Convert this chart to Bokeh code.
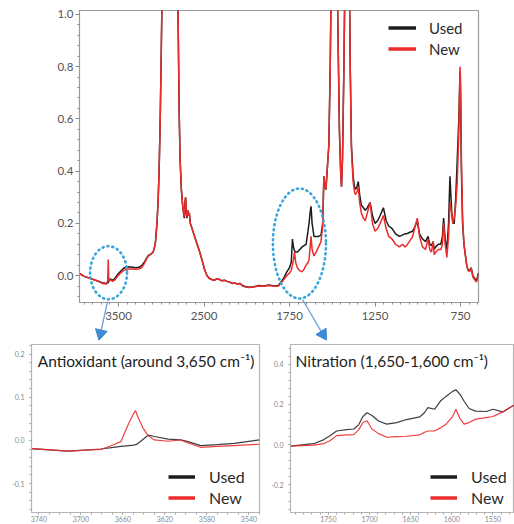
import numpy as np
from bokeh.plotting import figure
from bokeh.models import (Range1d, FixedTicker, Legend, LegendItem, Label)
from bokeh.layouts import column, row
from bokeh.embed import file_html
from bokeh.resources import INLINE

# ---------------- data ----------------
main_wn = [3956, 3900, 3820, 3750, 3690, 3640, 3626, 3620, 3614, 3605, 3590, 3570, 3540, 3510,
           3480, 3440, 3400, 3350, 3300, 3260, 3230, 3200, 3170, 3150, 3120, 3095, 3070, 3050,
           3036, 3025, 3012, 3000, 2985, 2960, 2930, 2900, 2870, 2840, 2815, 2800, 2790, 2780,
           2765, 2750, 2738, 2730, 2722, 2715, 2708, 2700, 2690, 2680, 2672, 2660, 2640, 2610,
           2580, 2550, 2524, 2495, 2466, 2440, 2410, 2380, 2350, 2320, 2290, 2260, 2230, 2200,
           2170, 2140, 2110, 2080, 2050, 2020, 1990, 1960, 1930, 1900, 1870, 1840, 1815, 1795,
           1780, 1765, 1750, 1740, 1733, 1727, 1721, 1714, 1704, 1690, 1676, 1665, 1653, 1642,
           1636, 1628, 1624, 1618, 1607, 1595, 1580, 1566, 1556, 1549, 1543, 1537, 1528, 1520,
           1512, 1505, 1490, 1480, 1474, 1466, 1458, 1450, 1446, 1440, 1432, 1423, 1412, 1402,
           1395, 1388, 1378, 1370, 1365, 1356, 1348, 1340, 1330, 1318, 1307, 1295, 1279, 1265,
           1250, 1235, 1220, 1201, 1185, 1170, 1150, 1130, 1108, 1090, 1075, 1065, 1050, 1030,
           1015, 1003, 990, 972, 955, 940, 930, 920, 910, 904, 895, 880, 865, 856, 849, 840,
           830, 820, 812, 802, 795, 787, 778, 769, 760, 753, 750, 745, 738, 730, 722, 714,
           706, 697, 688, 678, 668, 657, 645]
main_used = [0.008, -0.003, -0.012, -0.02, -0.027, -0.03, -0.028, -0.026, -0.022, -0.015, -0.013,
             -0.018, -0.01, 0.005, 0.015, 0.028, 0.034, 0.033, 0.03, 0.032, 0.038, 0.05, 0.068,
             0.077, 0.082, 0.09, 0.12, 0.2, 0.29, 0.4, 0.6, 0.85, 1.2, 1.8, 2.2, 2.4, 2.2, 1.8,
             1.3, 0.9, 0.62, 0.45, 0.33, 0.27, 0.235, 0.22, 0.28, 0.3, 0.24, 0.22, 0.25, 0.23,
             0.24, 0.2, 0.18, 0.15, 0.12, 0.09, 0.06, 0.025, 0.0, -0.01, -0.015, -0.018, -0.012,
             -0.015, -0.02, -0.018, -0.022, -0.025, -0.03, -0.028, -0.032, -0.03, -0.038, -0.042,
             -0.045, -0.043, -0.038, -0.04, -0.036, -0.04, -0.038, -0.02, -0.005, 0.015, 0.03,
             0.05, 0.14, 0.11, 0.095, 0.09, 0.09, 0.1, 0.11, 0.115, 0.12, 0.17, 0.2, 0.25, 0.265,
             0.2, 0.15, 0.15, 0.15, 0.155, 0.2, 0.38, 0.34, 0.33, 0.42, 0.5, 0.8, 1.2, 1.6, 1.5,
             1.3, 0.9, 0.55, 0.38, 0.34, 0.45, 0.8, 1.3, 1.7, 1.3, 0.8, 0.5, 0.38, 0.34, 0.33,
             0.34, 0.36, 0.31, 0.27, 0.26, 0.25, 0.26, 0.28, 0.23, 0.2, 0.21, 0.23, 0.26, 0.21,
             0.19, 0.18, 0.16, 0.15, 0.155, 0.16, 0.16, 0.165, 0.17, 0.19, 0.21, 0.16, 0.14, 0.13,
             0.15, 0.12, 0.115, 0.13, 0.1, 0.11, 0.12, 0.12, 0.15, 0.22, 0.14, 0.1, 0.2, 0.38,
             0.25, 0.2, 0.2, 0.3, 0.45, 0.6, 0.78, 0.7, 0.4, 0.2, 0.12, 0.08, 0.04, 0.02, 0.02,
             0.03, 0.0, -0.01, -0.02, 0.01]
main_new = [0.008, -0.003, -0.012, -0.02, -0.03, -0.032, -0.02, 0.062, -0.01, -0.02, -0.016,
            -0.022, -0.016, -0.002, 0.008, 0.02, 0.025, 0.025, 0.024, 0.026, 0.03, 0.045, 0.065,
            0.075, 0.082, 0.09, 0.12, 0.2, 0.29, 0.4, 0.6, 0.85, 1.2, 1.8, 2.2, 2.4, 2.2, 1.8,
            1.3, 0.9, 0.62, 0.45, 0.33, 0.27, 0.24, 0.225, 0.285, 0.3, 0.245, 0.225, 0.25, 0.23,
            0.24, 0.2, 0.18, 0.15, 0.12, 0.09, 0.06, 0.025, 0.0, -0.01, -0.015, -0.018, -0.012,
            -0.015, -0.02, -0.018, -0.022, -0.025, -0.03, -0.028, -0.033, -0.03, -0.04, -0.043,
            -0.046, -0.044, -0.04, -0.041, -0.038, -0.041, -0.04, -0.025, -0.012, 0.0, 0.01,
            0.02, 0.04, 0.06, 0.09, 0.05, 0.03, 0.018, 0.015, 0.025, 0.04, 0.05, 0.06, 0.12, 0.15,
            0.1, 0.075, 0.09, 0.11, 0.13, 0.19, 0.38, 0.34, 0.33, 0.42, 0.5, 0.8, 1.2, 1.6, 1.5,
            1.3, 0.9, 0.55, 0.38, 0.34, 0.45, 0.8, 1.3, 1.7, 1.3, 0.8, 0.48, 0.36, 0.32, 0.31,
            0.32, 0.34, 0.28, 0.24, 0.22, 0.21, 0.24, 0.28, 0.2, 0.17, 0.18, 0.2, 0.23, 0.18,
            0.15, 0.14, 0.12, 0.11, 0.12, 0.11, 0.115, 0.13, 0.15, 0.19, 0.22, 0.15, 0.11, 0.1,
            0.14, 0.1, 0.09, 0.13, 0.08, 0.09, 0.1, 0.1, 0.12, 0.2, 0.12, 0.07, 0.15, 0.28,
            0.24, 0.2, 0.22, 0.27, 0.36, 0.55, 0.8, 0.75, 0.45, 0.22, 0.12, 0.08, 0.04, 0.02,
            0.015, 0.03, -0.005, -0.015, -0.025, 0.005]

anti_wn = [3750, 3747, 3712, 3681, 3669, 3662, 3654, 3650, 3648, 3646, 3641, 3636, 3630, 3617,
           3605, 3598, 3586, 3570, 3554, 3530]
anti_used = [-0.02, -0.019, -0.025, -0.02, -0.016, -0.014, -0.012, -0.011, -0.01, -0.008, 0.002,
             0.012, 0.009, 0.003, 0.001, -0.003, -0.012, -0.01, -0.007, 0.001]
anti_new = [-0.02, -0.019, -0.025, -0.021, -0.01, -0.003, 0.042, 0.061, 0.069, 0.056, 0.029,
            0.011, 0.001, -0.002, 0.001, -0.006, -0.016, -0.014, -0.012, -0.009]

nit_wn = [1800, 1796, 1768, 1756, 1748, 1740, 1728, 1719, 1713, 1708, 1703, 1697, 1689, 1679,
          1667, 1655, 1639, 1633, 1629, 1621, 1613, 1607, 1599, 1595, 1590, 1585, 1579, 1571,
          1558, 1550, 1538, 1523]
nit_used = [-0.01, -0.007, 0.005, 0.024, 0.045, 0.068, 0.075, 0.078, 0.1, 0.14, 0.159, 0.145,
            0.118, 0.102, 0.11, 0.125, 0.138, 0.16, 0.184, 0.176, 0.22, 0.24, 0.265, 0.273, 0.25,
            0.216, 0.18, 0.167, 0.165, 0.176, 0.163, 0.2]
nit_new = [-0.01, -0.007, -0.002, 0.005, 0.02, 0.045, 0.049, 0.05, 0.075, 0.11, 0.119, 0.078,
           0.055, 0.037, 0.04, 0.042, 0.049, 0.062, 0.068, 0.068, 0.085, 0.102, 0.14, 0.176,
           0.13, 0.102, 0.11, 0.127, 0.135, 0.14, 0.163, 0.2]

main_xticks = [3500, 2500, 1750, 1250, 750]
main_yticks = [0.0, 0.2, 0.4, 0.6, 0.8, 1.0]
anti_xticks = [3740, 3700, 3660, 3620, 3580, 3540]
anti_yticks = [-0.1, 0.0, 0.1, 0.2]
nit_xticks = [1800, 1750, 1700, 1650, 1600, 1550]
nit_yticks = [-0.2, 0.0, 0.2, 0.4]
series_names = ["Used", "New"]
anti_title = "Antioxidant (around 3,650 cm\u207b\u00b9)"
nit_title = "Nitration (1,650-1,600 cm\u207b\u00b9)"

# annotation geometry (wavenumber / absorbance on the main plot's axes)
ell_wn, ell_y, ell_w_u, ell_h = [3616, 1692], [0.011, 0.123], [216, 310], [0.203, 0.421]
arr_x0, arr_y0 = [3628, 1674], [-0.0996, -0.092]
arr_x1, arr_y1 = [3710, 1555], [-0.222, -0.2253]
arr_angle = [2.91, -2.574]

BLACK = "#1c1c1c"
RED = "#ec2b2b"
BLUE = "#3aa5dc"
ARROW = "#3f8ad4"
FONT = "Lato"


def to_u(w):
    """FTIR split abscissa: scale halves above 2000 cm-1."""
    w = np.asarray(w, dtype=float)
    return np.where(w > 2000, 2000 + (w - 2000) / 2.0, w)


def fmt(v):
    return "%.1f" % v


def legend_proxy(fig, color, x0, y_off):
    # thick line used only as the legend swatch; its point lies outside the visible range
    return fig.line([x0, x0], [y_off, y_off], line_color=color, line_width=3.5)


# ---------------- main plot ----------------
xr_main = Range1d(float(to_u(3956)), float(to_u(645)))
p = figure(width=506, height=342, output_backend="svg", toolbar_location=None,
           x_range=xr_main, y_range=Range1d(-0.103, 1.015),
           min_border_left=79, min_border_right=28, min_border_top=10, min_border_bottom=40)
p.grid.visible = False
p.outline_line_color = "#9c9c9c"
p.outline_line_width = 1.2

u_ticks = [float(v) for v in to_u(main_xticks)]
p.xaxis.ticker = FixedTicker(ticks=u_ticks, minor_ticks=list(range(650, 2980, 50)))
p.xaxis.major_label_overrides = {u: str(t) for u, t in zip(u_ticks, main_xticks)}
p.yaxis.ticker = FixedTicker(ticks=main_yticks,
                             minor_ticks=[round(-0.08 + 0.04 * i, 2) for i in range(28)])
p.yaxis.major_label_overrides = {v: fmt(v) for v in main_yticks}
for ax in (p.xaxis[0], p.yaxis[0]):
    ax.axis_line_color = "#9c9c9c"
    ax.major_tick_line_color = "#8a8a8a"
    ax.minor_tick_line_color = "#8a8a8a"
    ax.major_tick_in = 0
    ax.minor_tick_in = 0
    ax.major_tick_out = 4
    ax.minor_tick_out = 2
    ax.major_label_text_font = FONT
    ax.major_label_text_font_size = "11.5px"
    ax.major_label_text_color = "#555555"
p.xaxis.major_label_standoff = 5
p.yaxis.major_label_standoff = 2

mu = to_u(main_wn)
p.line(mu, main_used, line_color=BLACK, line_width=1.5)
p.line(mu, main_new, line_color=RED, line_width=1.5)

# highlighted regions (dotted ellipses)
p.ellipse(x=to_u(ell_wn), y=ell_y, width=ell_w_u, height=ell_h,
          fill_color=None, line_color=BLUE, line_width=2.6, line_dash="1 4", line_cap="round")

lu = legend_proxy(p, BLACK, 1000.0, -5.0)
ln = legend_proxy(p, RED, 1000.0, -5.0)
leg = Legend(items=[LegendItem(label=series_names[0], renderers=[lu]),
                    LegendItem(label=series_names[1], renderers=[ln])],
             location=(309, 243), padding=0, margin=0, spacing=0,
             glyph_width=28, glyph_height=21, label_height=21, label_standoff=13,
             label_text_font=FONT, label_text_font_size="15px", label_text_color="#2a2a2a",
             border_line_color=None, background_fill_alpha=0)
p.add_layout(leg)

# transparent strip laid over the bottom of the main plot, continuing its scales,
# which carries the arrows pointing to the zoomed panels
strip_h = 44
ov = figure(width=506, height=strip_h, output_backend="svg", toolbar_location=None,
            x_range=xr_main, y_range=Range1d((275 - 342) / 261.0, (275 - 298) / 261.0),
            min_border_left=79, min_border_right=28, min_border_top=0, min_border_bottom=0,
            background_fill_color=None, border_fill_color=None, outline_line_color=None,
            margin=(-strip_h, 0, 0, 0))
ov.axis.visible = False
ov.grid.visible = False
ov.segment(x0=to_u(arr_x0), y0=arr_y0, x1=to_u(arr_x1), y1=arr_y1,
           line_color="#6aa2da", line_width=1.3)
ov.scatter(x=to_u(arr_x1), y=arr_y1, marker="triangle", size=12, angle=arr_angle,
           fill_color=ARROW, line_color=ARROW)


# ---------------- inset plots ----------------
def inset(width, bl, br, xr, yr, xticks, xminor, yticks, yminor, wn, used, new,
          title, title_x, title_y, leg_x):
    f = figure(width=width, height=182, output_backend="svg", toolbar_location=None,
               x_range=Range1d(*xr), y_range=Range1d(*yr),
               min_border_left=bl, min_border_right=br, min_border_top=2, min_border_bottom=9)
    f.grid.visible = False
    f.outline_line_color = "#b5b5b5"
    f.outline_line_width = 1.2
    f.xaxis.ticker = FixedTicker(ticks=xticks, minor_ticks=xminor)
    f.yaxis.ticker = FixedTicker(ticks=yticks, minor_ticks=yminor)
    f.yaxis.major_label_overrides = {v: fmt(v) for v in yticks}
    for ax in (f.xaxis[0], f.yaxis[0]):
        ax.axis_line_color = "#b5b5b5"
        ax.major_tick_line_color = "#a5a5a5"
        ax.minor_tick_line_color = "#a5a5a5"
        ax.major_tick_in = 0
        ax.minor_tick_in = 0
        ax.major_tick_out = 2
        ax.minor_tick_out = 2
        ax.major_label_text_font = FONT
        ax.major_label_text_font_size = "7px"
        ax.major_label_text_color = "#8a8a8a"
        ax.major_label_standoff = 1
    f.yaxis.major_label_standoff = 5
    f.line(wn, used, line_color=BLACK, line_width=1.2, line_alpha=0.85)
    f.line(wn, new, line_color=RED, line_width=1.2, line_alpha=0.9)
    f.add_layout(Label(x=title_x, y=title_y, text=title, text_font=FONT,
                       text_font_size="15.5px", text_baseline="middle", text_color="#1e1e1e"))
    a = legend_proxy(f, BLACK, float(wn[0]), yr[0] - 5.0)
    b = legend_proxy(f, RED, float(wn[0]), yr[0] - 5.0)
    lg = Legend(items=[LegendItem(label=series_names[0], renderers=[a]),
                       LegendItem(label=series_names[1], renderers=[b])],
                location=(leg_x, 4), padding=0, margin=0, spacing=0,
                glyph_width=27, glyph_height=21, label_height=21, label_standoff=14,
                label_text_font=FONT, label_text_font_size="16px", label_text_color="#2a2a2a",
                border_line_color=None, background_fill_alpha=0)
    f.add_layout(lg)
    return f


left = inset(268, 31, 9, (3747, 3530), (-0.167, 0.222), anti_xticks,
             list(range(3530, 3750, 10)), anti_yticks,
             [round(-0.16 + 0.02 * i, 2) for i in range(20)],
             anti_wn, anti_used, anti_new, anti_title, 3741, 0.184, 137)
right = inset(246, 20, 1, (1796, 1525), (-0.337, 0.498), nit_xticks,
              list(range(1530, 1800, 10)), nit_yticks,
              [round(-0.32 + 0.04 * i, 2) for i in range(21)],
              nit_wn, nit_used, nit_new, nit_title, 1790, 0.416, 140)

layout = column(p, ov, row(left, right))
open("out.html", "w").write(file_html(layout, INLINE))
